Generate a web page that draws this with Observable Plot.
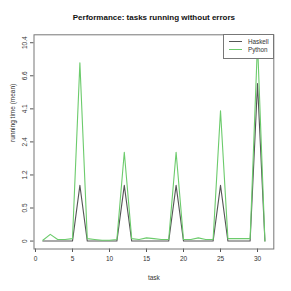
<!DOCTYPE html>
<html><head><meta charset="utf-8">
<script src="https://cdn.jsdelivr.net/npm/d3@7"></script>
<script src="https://cdn.jsdelivr.net/npm/@observablehq/plot@0.6"></script>
<style>
body{margin:0;background:#fff;font-family:"Liberation Sans",Arial,sans-serif;}
#wrap{position:relative;width:291px;height:291px;overflow:hidden;}
#legend{position:absolute;left:223px;top:34px;width:51px;height:25px;box-sizing:border-box;border:1px solid #777;background:#fff;}
.row{position:absolute;left:0;height:8px;width:50px;}
.sw{position:absolute;left:5px;width:12.5px;top:3.4px;height:0;border-top:1.1px solid;}
.lb{position:absolute;left:24px;top:0;font-size:6.3px;line-height:8px;color:#333;white-space:nowrap;}
</style></head>
<body>
<div id="wrap"></div>
<script>
const tasks = [1,2,3,4,5,6,7,8,9,10,11,12,13,14,15,16,17,18,19,20,21,22,23,24,25,26,27,28,29,30,31];
const haskell = [0,0,0,0,0,0.98,0,0,0,0,0,0.98,0,0,0,0,0,0,0.98,0,0,0,0,0,0.98,0,0,0,0,5.89,0];
const python = [0.01,0.085,0.02,0.02,0.03,7.9,0.03,0.02,0.01,0.01,0.02,1.97,0.03,0.02,0.04,0.03,0.02,0.02,1.97,0.02,0.02,0.04,0.02,0.02,3.94,0.03,0.03,0.03,0.03,10.37,0];
const seriesNames = ["Haskell","Python"];
const seriesColors = ["#555555","#6ccb6c"];
const xTicks = [0,5,10,15,20,25,30];
const yTickLabels = ["0","0.5","1.2","2.4","4.1","6.6","10.4"];
const titleText = "Performance: tasks running without errors";
const xLabel = "task";
const yLabel = "running time (mean)";

const rows = tasks.map((t,i)=>({task:t, haskell:haskell[i], python:python[i]}));
const ymaxT = Math.log1p(d3.max(python));
const yTicks = yTickLabels.map((_,i)=> i*ymaxT/(yTickLabels.length-1));
const fmtY = d => yTickLabels[yTicks.findIndex(v=>Math.abs(v-d)<1e-9)];

const chart = Plot.plot({
  width:291, height:291,
  marginLeft:33.5, marginRight:17.7, marginTop:34.3, marginBottom:42.5,
  style:{fontFamily:"'Liberation Sans', Arial, sans-serif", fontSize:"6.5px", color:"#333", background:"white"},
  x:{domain:[-0.2,32.2]},
  y:{domain:[-0.04*ymaxT, 1.04*ymaxT]},
  marks:[
    Plot.axisX({ticks:xTicks, tickSize:3.5, tickPadding:4, label:null, stroke:"#555", fill:"#333"}),
    Plot.axisY({ticks:yTicks, tickFormat:fmtY, tickRotate:-90, tickSize:3.5, tickPadding:4, label:null, stroke:"#555", fill:"#333"}),
    Plot.line(rows, {x:"task", y:d=>Math.log1p(d.haskell), stroke:seriesColors[0], strokeWidth:1.1}),
    Plot.line(rows, {x:"task", y:d=>Math.log1p(d.python), stroke:seriesColors[1], strokeWidth:1.1}),
    Plot.frame({stroke:"#777", strokeWidth:1}),
    Plot.text([titleText], {frameAnchor:"top", lineAnchor:"middle", dy:-17.6, fontWeight:"bold", fontSize:8, fill:"#111"}),
    Plot.text([xLabel], {frameAnchor:"bottom", lineAnchor:"middle", dy:29.2, fontSize:6.5, fill:"#333"}),
    Plot.text([yLabel], {frameAnchor:"left", lineAnchor:"middle", rotate:-90, dx:-21, fontSize:6.5, fill:"#333"})
  ]
});
const wrap = document.getElementById("wrap");
wrap.appendChild(chart);
const lg = document.createElement("div");
lg.id = "legend";
seriesNames.forEach((n,i)=>{
  const r = document.createElement("div");
  r.className = "row"; r.style.top = (3 + i*8) + "px";
  const s = document.createElement("div"); s.className="sw"; s.style.borderTopColor = seriesColors[i];
  const l = document.createElement("div"); l.className="lb"; l.textContent = n;
  r.appendChild(s); r.appendChild(l); lg.appendChild(r);
});
wrap.appendChild(lg);
</script>
</body></html>
